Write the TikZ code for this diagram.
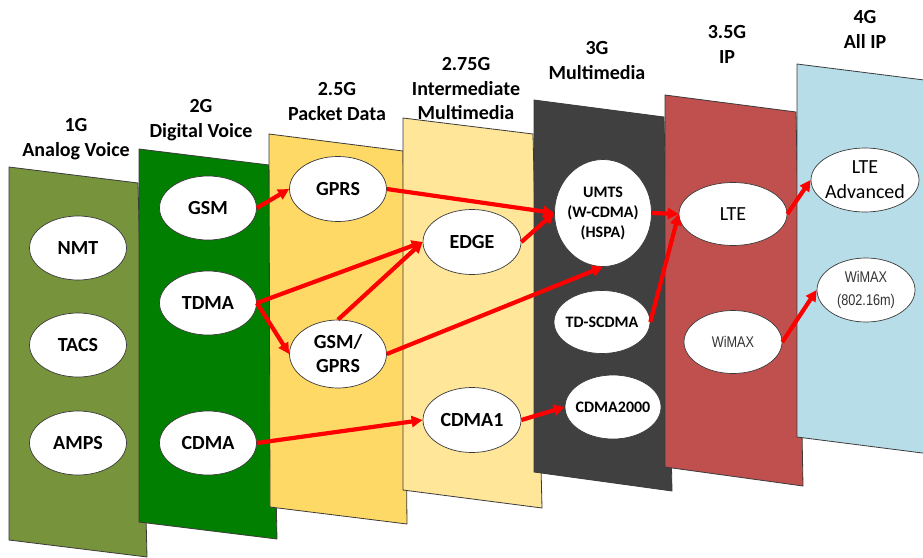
\documentclass[tikz,border=0pt]{standalone}
\usepackage{fontspec}
\setmainfont{Carlito}
\newfontfamily\narrowfont{Liberation Sans}[FakeStretch=0.82]
\usetikzlibrary{shapes.geometric,arrows.meta}

\definecolor{gOne}{HTML}{77933C}
\definecolor{gTwo}{HTML}{007F00}
\definecolor{gTwoFive}{HTML}{FFD966}
\definecolor{gTwoSevenFive}{HTML}{FFE699}
\definecolor{gThree}{HTML}{404040}
\definecolor{gThreeFive}{HTML}{C0504D}
\definecolor{gFour}{HTML}{B7DEE8}
\definecolor{outline}{HTML}{3A3A3A}
\definecolor{arrowred}{HTML}{FF0000}

\tikzset{
  panel/.style={fill=#1, draw=outline, line width=0.8pt, line join=miter},
  title/.style={font=\bfseries\fontsize{20}{24.5}\selectfont, align=center, text=black},
  tech/.style={ellipse, draw=outline, fill=white, line width=0.7pt, inner sep=-6pt,
    align=center, text=black, font=\bfseries\fontsize{20}{24}\selectfont,
    minimum width=97pt, minimum height=64pt},
  techsmall/.style={tech, font=\bfseries\fontsize{16}{20}\selectfont},
  techplain/.style={tech, font=\fontsize{20}{25}\selectfont},
  technarrow/.style={tech, text=black!80, font=\narrowfont\fontsize{15.5}{23}\selectfont},
  link/.style={draw=arrowred, line width=4.2pt, -{Triangle[length=11pt,width=11pt]}}
}

\begin{document}
\begin{tikzpicture}[x=1pt, y=-1pt]
\useasboundingbox (0,0) rectangle (923,557);

% generation panels, back to front
\path[panel=gOne]          (9,167)   -- (138,183) -- (147,557) -- (9,540)   -- cycle;
\path[panel=gTwo]          (139,149) -- (269,165) -- (277,539) -- (139,522) -- cycle;
\path[panel=gTwoFive]      (269,134) -- (403,151) -- (407,524) -- (270,507) -- cycle;
\path[panel=gTwoSevenFive] (403,118) -- (533,134) -- (542,508) -- (403,490) -- cycle;
\path[panel=gThree]        (534,100) -- (664,117) -- (672,491) -- (534,472) -- cycle;
\path[panel=gThreeFive]    (665,95)  -- (796,112) -- (803,486) -- (665,467) -- cycle;
\path[panel=gFour]         (797,64)  -- (932,81)  -- (938,455) -- (797,437) -- cycle;

% generation titles
\node[title] (t1)  at (76,139)   {1G\\Analog Voice};
\node[title] (t2)  at (201,120)  {2G\\Digital Voice};
\node[title] (t25) at (337,101.5){2.5G\\Packet Data};
\node[title] (t275) at (466,89)  {2.75G\\Intermediate\\Multimedia};
\node[title] (t3)  at (597,60.5) {3G\\Multimedia};
\node[title] (t35) at (727,44.5) {3.5G\\IP};
\node[title] (t4)  at (865,29.5) {4G\\All IP};

% technologies
\node[tech] (nmt)  at (78,248) {NMT};
\node[tech] (tacs) at (78,345) {TACS};
\node[tech] (amps) at (78,443) {AMPS};

\node[tech] (gsm)  at (208,208) {GSM};
\node[tech] (tdma) at (208,303) {TDMA};
\node[tech] (cdma) at (208,443) {CDMA};

\node[tech, minimum height=65pt] (gprs) at (338,189) {GPRS};
\node[tech, minimum height=68pt] (gsmgprs) at (338,354) {GSM/\\GPRS};

\node[tech, minimum width=98pt, minimum height=65pt] (edgenode) at (472,242) {EDGE};
\node[tech, minimum width=98pt, minimum height=65pt] (cdmaone)  at (472,420) {CDMA1};

\node[techsmall, minimum height=107pt] (umts) at (603,213) {UMTS\\(W-CDMA)\\(HSPA)};
\node[techsmall, minimum width=96pt, minimum height=63pt] (tdscdma) at (602,322) {TD-SCDMA};
\node[techsmall, minimum width=96pt] (cdmatwo) at (613,407) {CDMA2000};

\node[techplain, minimum width=108pt, minimum height=63pt] (lte) at (733,214) {LTE};
\node[technarrow, minimum width=98pt, minimum height=63pt] (wimax) at (733,342) {WiMAX};

\node[techplain, minimum width=108pt] (lteadv) at (865,180) {LTE\\Advanced};
\node[technarrow, minimum width=98pt] (wimaxm) at (866,290) {WiMAX\\(802.16m)};

% evolution paths
\draw[link] (gsm.east)      -- (gprs.west);
\draw[link] (tdma.east)     -- (edgenode.west);
\draw[link] (tdma.east)     -- (gsmgprs.west);
\draw[link] (gsmgprs.north) -- (edgenode.west);
\draw[link] (gprs.east)     -- (umts.west);
\draw[link] (edgenode.east) -- (umts.west);
\draw[link] (gsmgprs.east)  -- (umts.south);
\draw[link] (cdma.east)     -- (cdmaone.west);
\draw[link] (cdmaone.east)  -- (cdmatwo.west);
\draw[link] (umts.east)     -- (lte.west);
\draw[link] (tdscdma.east)  -- (lte.west);
\draw[link] (lte.east)      -- (lteadv.west);
\draw[link] (wimax.east)    -- (wimaxm.west);
\end{tikzpicture}
\end{document}
